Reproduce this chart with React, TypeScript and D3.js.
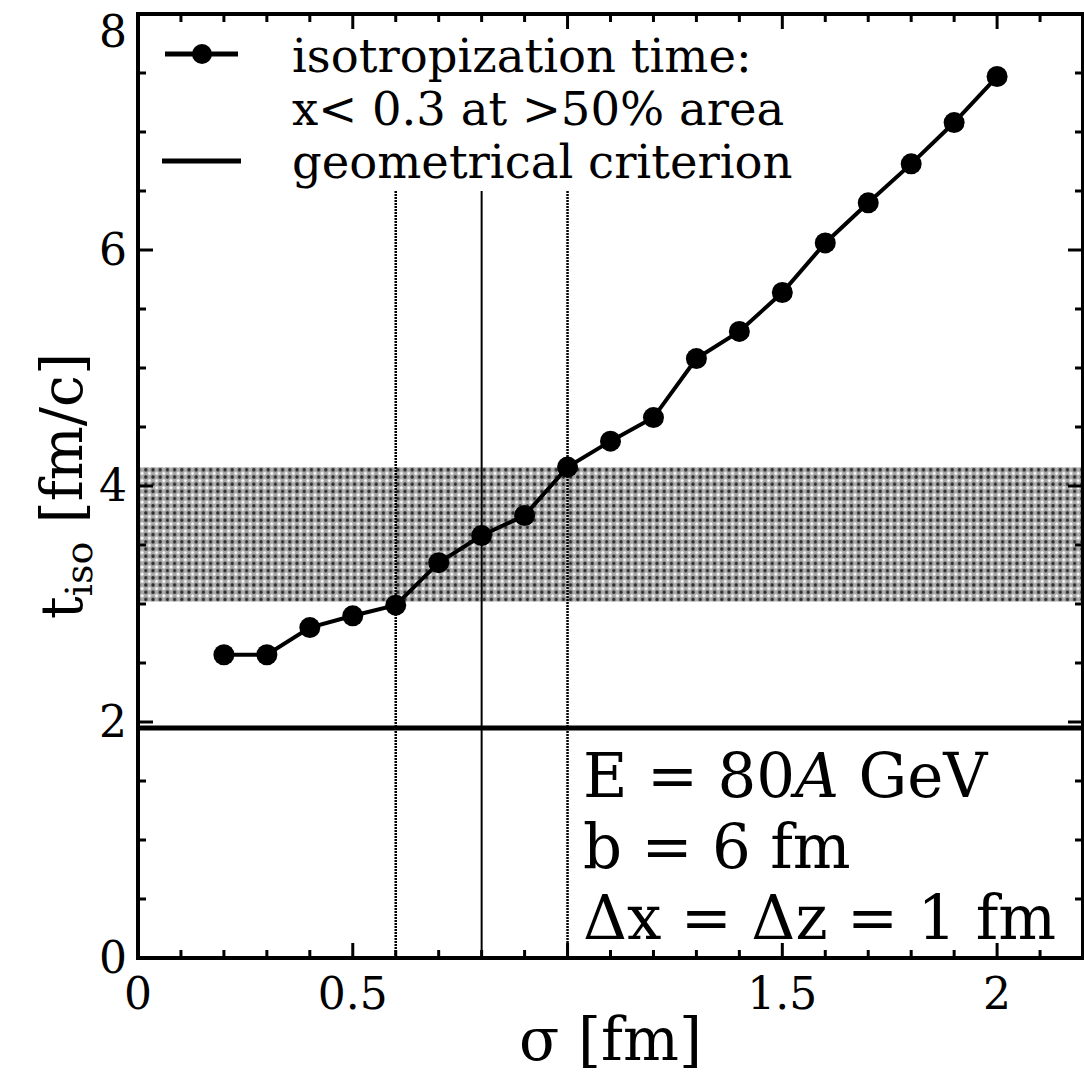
import React from "react";
import * as d3 from "d3";

const sigma = [0.2, 0.3, 0.4, 0.5, 0.6, 0.7, 0.8, 0.9, 1.0, 1.1, 1.2, 1.3, 1.4, 1.5, 1.6, 1.7, 1.8, 1.9, 2.0];
const tIso = [2.57, 2.57, 2.8, 2.9, 2.99, 3.35, 3.58, 3.75, 4.16, 4.38, 4.58, 5.08, 5.31, 5.64, 6.06, 6.4, 6.73, 7.08, 7.47];

const bandRange = [3.02, 4.16];
const geoCriterion = 0.8;
const geoBounds = [0.6, 1.0];
const geoLineTop = 6.5;
const horizLevel = 1.95;

const xTickLabels = [0, 0.5, 1.5, 2];
const xMajor = [0, 0.5, 1, 1.5, 2];
const xMinor = d3.range(0, 2.21, 0.1);
const yTickLabels = [0, 2, 4, 6, 8];
const yMinor = d3.range(0, 8.01, 0.5);

const legendLabels = ["isotropization time:", "x< 0.3 at >50% area", "geometrical criterion"];
const infoLines = ["b = 6 fm", "Δx = Δz = 1 fm"];

const W = 1084;
const H = 1078;
const L = 138, R = 1083, T = 14, B = 958;
const FONT = "'DejaVu Serif', serif";
const P = 7.2;

export default function App() {
  const x = d3.scaleLinear().domain([0, 2.2]).range([L, R]);
  const y = d3.scaleLinear().domain([0, 8]).range([B, T]);
  const line = d3.line<number>().x((_, i) => x(sigma[i])).y((d) => y(d));
  const fmt = (v: number) => String(v);

  return (
    <svg width={W} height={H} style={{ position: "absolute", left: 0, top: 0, background: "#fff" }}>
      <defs>
        <pattern id="stipple" width={P} height={P} patternUnits="userSpaceOnUse">
          <rect width={P} height={P} fill="#a8a8a8" />
          <circle cx={P * 0.25} cy={P * 0.25} r={1.7} fill="#2a2a2a" />
          <circle cx={P * 0.75} cy={P * 0.75} r={1.6} fill="#ffffff" />
        </pattern>
      </defs>

      {/* band */}
      <rect
        x={L}
        y={y(bandRange[1])}
        width={R - L}
        height={y(bandRange[0]) - y(bandRange[1])}
        fill="url(#stipple)"
      />

      {/* vertical criterion lines */}
      {geoBounds.map((g) => (
        <line key={g} x1={x(g)} x2={x(g)} y1={y(0)} y2={y(geoLineTop)} stroke="#000" strokeWidth={2.5} strokeDasharray="2,1" />
      ))}
      <line x1={x(geoCriterion)} x2={x(geoCriterion)} y1={y(0)} y2={y(geoLineTop)} stroke="#000" strokeWidth={2} />

      {/* horizontal thick line */}
      <line x1={L} x2={R} y1={y(horizLevel)} y2={y(horizLevel)} stroke="#000" strokeWidth={5} />

      {/* data */}
      <path d={line(tIso) || ""} fill="none" stroke="#000" strokeWidth={4} />
      {tIso.map((v, i) => (
        <circle key={i} cx={x(sigma[i])} cy={y(v)} r={10.5} fill="#000" />
      ))}

      {/* frame */}
      <rect x={L} y={T} width={R - L} height={B - T} fill="none" stroke="#000" strokeWidth={4} />

      {/* ticks */}
      {xMinor.map((v, i) => {
        const major = xMajor.some((m) => Math.abs(m - v) < 1e-6);
        const len = major ? 15 : 8;
        return (
          <g key={"xt" + i}>
            <line x1={x(v)} x2={x(v)} y1={B} y2={B - len} stroke="#000" strokeWidth={3} />
            <line x1={x(v)} x2={x(v)} y1={T} y2={T + len} stroke="#000" strokeWidth={3} />
          </g>
        );
      })}
      {yMinor.map((v, i) => {
        const major = yTickLabels.some((m) => Math.abs(m - v) < 1e-6);
        const len = major ? 15 : 8;
        return (
          <g key={"yt" + i}>
            <line x1={L} x2={L + len} y1={y(v)} y2={y(v)} stroke="#000" strokeWidth={3} />
            <line x1={R} x2={R - len} y1={y(v)} y2={y(v)} stroke="#000" strokeWidth={3} />
          </g>
        );
      })}

      {/* tick labels */}
      {xTickLabels.map((v) => (
        <text key={"xl" + v} x={x(v)} y={1009} textAnchor="middle" fontFamily={FONT} fontSize={44} fill="#000">
          {fmt(v)}
        </text>
      ))}
      {yTickLabels.map((v) => (
        <text key={"yl" + v} x={127} y={Math.max(y(v) + 15, 47)} textAnchor="end" fontFamily={FONT} fontSize={44} fill="#000">
          {fmt(v)}
        </text>
      ))}

      {/* axis labels */}
      <text x={(L + R) / 2} y={1060} textAnchor="middle" fontFamily={FONT} fontSize={59} fill="#000">
        σ [fm]
      </text>
      <text transform={`translate(82,${(T + B) / 2}) rotate(-90)`} textAnchor="middle" fontFamily={FONT} fontSize={57} fill="#000">
        t<tspan fontSize={38} dy={10}>iso</tspan>
        <tspan dy={-10}> [fm/c]</tspan>
      </text>

      {/* legend */}
      <line x1={165} x2={238} y1={54} y2={54} stroke="#000" strokeWidth={5} />
      <circle cx={202} cy={54} r={10} fill="#000" />
      <line x1={162} x2={241} y1={161} y2={161} stroke="#000" strokeWidth={5} />
      {legendLabels.map((t, i) => (
        <text key={t} x={292} y={72 + i * 53} fontFamily={FONT} fontSize={46.5} fill="#000">
          {t}
        </text>
      ))}

      {/* info text */}
      <text x={583} y={797} fontFamily={FONT} fontSize={61} fill="#000">
        E = 80<tspan fontStyle="italic">A</tspan> GeV
      </text>
      {infoLines.map((t, i) => (
        <text key={t} x={583} y={868 + i * 71} fontFamily={FONT} fontSize={61} fill="#000">
          {t}
        </text>
      ))}
    </svg>
  );
}
